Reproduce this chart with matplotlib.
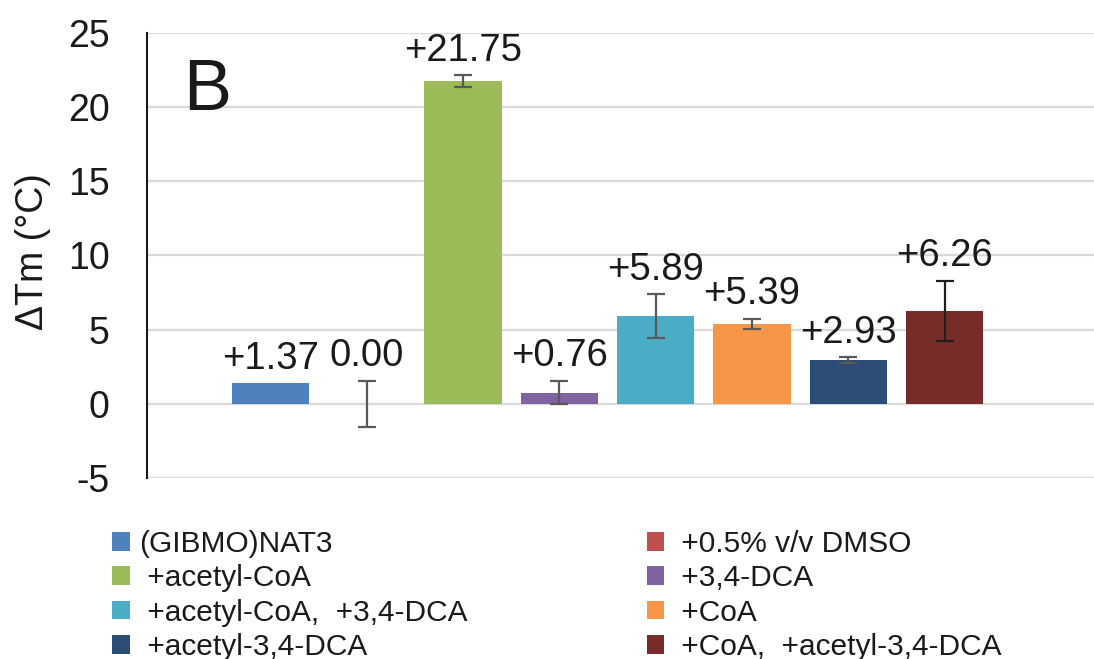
import matplotlib
matplotlib.use("Agg")
import matplotlib.pyplot as plt
from matplotlib.patches import Patch

plt.rcParams['font.family'] = ['Liberation Sans', 'DejaVu Sans']

# Thermal shift (ΔTm) per condition, with error bar half-widths
conditions = ["(GIBMO)NAT3", " +0.5% v/v DMSO", " +acetyl-CoA", " +3,4-DCA",
              " +acetyl-CoA,  +3,4-DCA", " +CoA", " +acetyl-3,4-DCA",
              " +CoA,  +acetyl-3,4-DCA"]
delta_tm = [1.37, 0.00, 21.75, 0.76, 5.89, 5.39, 2.93, 6.26]
errors = [0.0, 1.55, 0.40, 0.80, 1.48, 0.33, 0.20, 2.05]
bar_colors = ["#4F81BD", "#C0504D", "#9BBB59", "#8064A2",
              "#4BACC6", "#F79646", "#2C4D75", "#772C2A"]
err_colors = ["#595959"] * 7 + ["#1F1F1F"]
y_ticks = [-5, 0, 5, 10, 15, 20, 25]

fig = plt.figure(figsize=(10.94, 6.59), dpi=100)
ax = fig.add_axes([0.1344, 0.2747, 0.8656, 0.6753])

x = list(range(len(delta_tm)))
ax.bar(x, delta_tm, width=0.8, color=bar_colors, zorder=2)

for xi, v, e, ec in zip(x, delta_tm, errors, err_colors):
    if e > 0:
        ax.errorbar(xi, v, yerr=e, fmt='none', ecolor=ec, elinewidth=1.6,
                    capsize=6.2, capthick=1.6, zorder=3)
    txt = "0.00" if v == 0 else f"+{v:.2f}"
    ax.annotate(txt, (xi, v + e), xytext=(0, 10.5), textcoords='offset points',
                ha='center', va='baseline', fontsize=27.5, color='#1A1A1A')

ax.set_xlim(-1.28, 8.55)
ax.set_ylim(-5, 25)
ax.set_yticks(y_ticks)
ax.set_yticklabels([str(t) for t in y_ticks])
ax.set_xticks([])
ax.tick_params(axis='y', length=0, pad=27, labelsize=27, labelcolor='#1A1A1A')

ax.yaxis.grid(True, color='#D9D9D9', linewidth=1.6)
ax.set_axisbelow(True)
for side in ('top', 'right', 'bottom'):
    ax.spines[side].set_visible(False)
ax.spines['left'].set_color('#1A1A1A')
ax.spines['left'].set_linewidth(1.5)

fig.text(33 / 1094, 1 - 252 / 659, "ΔTm (°C)", rotation=90, ha='center',
         va='center', fontsize=27, color='#1A1A1A')
fig.text(183 / 1094, 1 - 110 / 659, "B", ha='left', va='baseline',
         fontsize=52, color='#1A1A1A')

handles = [Patch(facecolor=c, edgecolor='none') for c in bar_colors]
order = [0, 2, 4, 6, 1, 3, 5, 7]
fig.legend([handles[i] for i in order], [conditions[i] for i in order],
           ncol=2, loc='upper left', bbox_to_anchor=(112 / 1094, 1 - 530 / 659),
           frameon=False, fontsize=21.5, handlelength=0.6, handleheight=0.6,
           handletextpad=0.3, labelspacing=0.21, columnspacing=6.0,
           borderpad=0, borderaxespad=0, labelcolor='#1A1A1A')

fig.savefig("out.png", dpi=100)
